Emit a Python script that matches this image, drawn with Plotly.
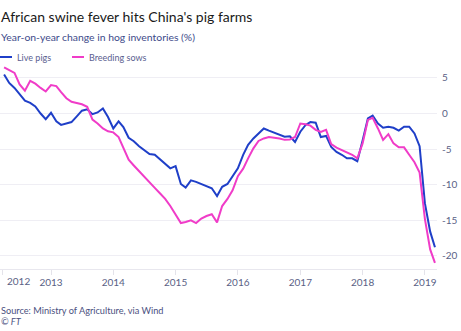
import plotly.graph_objects as go
import pandas as pd

months = pd.date_range("2012-04-01", "2019-03-01", freq="MS")

live_pigs = [
    5.5, 4.3, 3.6, 2.7, 1.8, 1.5, 1.0, 0.0, -0.8, 0.1, -1.1, -1.6,
    -1.4, -1.2, -0.4, 0.4, 0.6, -0.1, 0.15, 0.7, -0.5, -2.1, -1.1, -1.9,
    -3.4, -3.9, -4.6, -5.2, -5.7, -5.8, -6.4, -7.1, -7.7, -7.4, -9.9, -10.4,
    -9.4, -9.6, -9.9, -10.2, -10.5, -11.6, -10.3, -9.9, -8.9, -7.7, -5.8, -4.4,
    -3.5, -2.8, -2.1, -2.4, -2.7, -3.0, -3.25, -3.2, -4.0, -2.55, -1.6, -1.2,
    -1.3, -3.3, -3.15, -4.7, -5.4, -5.8, -6.3, -6.3, -6.7, -3.8, -0.7, -0.3,
    -1.4, -2.0, -1.85, -2.0, -2.4, -1.85, -1.85, -2.8, -4.6, -12.6, -16.6, -18.8,
]
breeding_sows = [
    6.5, 6.1, 5.7, 4.1, 3.2, 4.6, 4.2, 3.6, 3.1, 4.0, 3.85, 3.0,
    2.15, 1.65, 1.45, 1.3, 0.95, -0.85, -1.4, -2.1, -2.5, -2.65, -3.3, -4.8,
    -6.5, -7.3, -8.1, -9.0, -9.8, -10.45, -11.2, -12.0, -13.0, -14.2, -15.4, -15.25,
    -15.0, -15.4, -14.75, -14.4, -14.15, -15.3, -13.0, -12.0, -10.8, -8.8, -7.75, -6.3,
    -4.9, -3.85, -3.5, -3.3, -3.35, -3.5, -3.7, -3.65, -3.3, -1.4, -1.5, -1.7,
    -2.3, -2.6, -2.3, -4.3, -4.8, -5.1, -5.4, -5.8, -6.3, -4.2, -0.9, -0.6,
    -2.1, -3.7, -2.9, -4.2, -4.75, -4.75, -5.8, -6.85, -8.3, -14.8, -19.1, -21.0,
]

year_ticks = ["2013-01-01", "2014-01-01", "2015-01-01", "2016-01-01",
              "2017-01-01", "2018-01-01", "2019-01-01"]
year_labels = ["2013", "2014", "2015", "2016", "2017", "2018", "2019"]
y_ticks = [5, 0, -5, -10, -15, -20]

BLUE = "#1f3fc8"
PINK = "#f03cc8"
FONT = "Lato"

fig = go.Figure()
fig.add_trace(go.Scatter(x=months, y=live_pigs, mode="lines", name="Live pigs",
                         line=dict(color=BLUE, width=2)))
fig.add_trace(go.Scatter(x=months, y=breeding_sows, mode="lines", name="Breeding sows",
                         line=dict(color=PINK, width=2)))

# plot area: pixels x 0..437, y 63..269
PW, PT, PB = 437, 63, 269
PH = PB - PT

def px(X):
    return X / PW

def py(Y):
    return (PB - Y) / PH

fig.update_layout(
    width=461, height=331,
    margin=dict(l=0, r=461 - PW, t=PT, b=331 - PB, pad=0),
    paper_bgcolor="white", plot_bgcolor="white",
    showlegend=False,
    font=dict(family=FONT, color="#5a5f85", size=10),
    xaxis=dict(
        type="date",
        range=["2012-03-08", "2019-03-13"],
        tickvals=["2012-03-20"] + year_ticks,
        ticktext=[""] + year_labels,
        ticks="outside", ticklen=5, tickcolor="#e4e3ea", tickwidth=1,
        showgrid=False, showline=True, linecolor="#e8e7ee", linewidth=1,
        tickfont=dict(size=10, color="#5a5f85", family=FONT),
        zeroline=False, ticklabelstandoff=-1,
    ),
    yaxis=dict(
        side="right", range=[-21.85, 7.1],
        tickvals=y_ticks, ticktext=[str(v) for v in y_ticks],
        showgrid=True, gridcolor="#efeef4", gridwidth=1,
        zeroline=False, showline=False, ticks="",
        tickfont=dict(size=10, color="#5a5f85", family=FONT),
        ticklabelstandoff=4,
    ),
)

ann = [
    dict(text="African swine fever hits China's pig farms", x=px(0), y=py(16),
         font=dict(size=14, color="#1a1a1a", family=FONT)),
    dict(text="Year-on-year change in hog inventories (%)", x=px(0), y=py(37),
         font=dict(size=10.4, color="#3d4a8a", family=FONT)),
    dict(text="Live pigs", x=px(16), y=py(57),
         font=dict(size=9, color="#5a6090", family=FONT)),
    dict(text="Breeding sows", x=px(88), y=py(57),
         font=dict(size=9, color="#5a6090", family=FONT)),
    dict(text="2012", x=px(6), y=py(281),
         font=dict(size=10, color="#5a5f85", family=FONT)),
    dict(text="Source: Ministry of Agriculture, via Wind", x=px(0), y=py(310),
         font=dict(size=9.2, color="#4a5080", family=FONT)),
    dict(text="<i>© FT</i>", x=px(0), y=py(321),
         font=dict(size=9.2, color="#4a5080", family=FONT)),
]
for a in ann:
    fig.add_annotation(xref="paper", yref="paper", xanchor="left", yanchor="middle",
                       showarrow=False, borderpad=0, **a)

fig.add_shape(type="line", xref="paper", yref="paper", x0=px(0), x1=px(12),
              y0=py(57), y1=py(57), line=dict(color=BLUE, width=2))
fig.add_shape(type="line", xref="paper", yref="paper", x0=px(72), x1=px(84),
              y0=py(57), y1=py(57), line=dict(color=PINK, width=2))

fig.write_html("out.html")
